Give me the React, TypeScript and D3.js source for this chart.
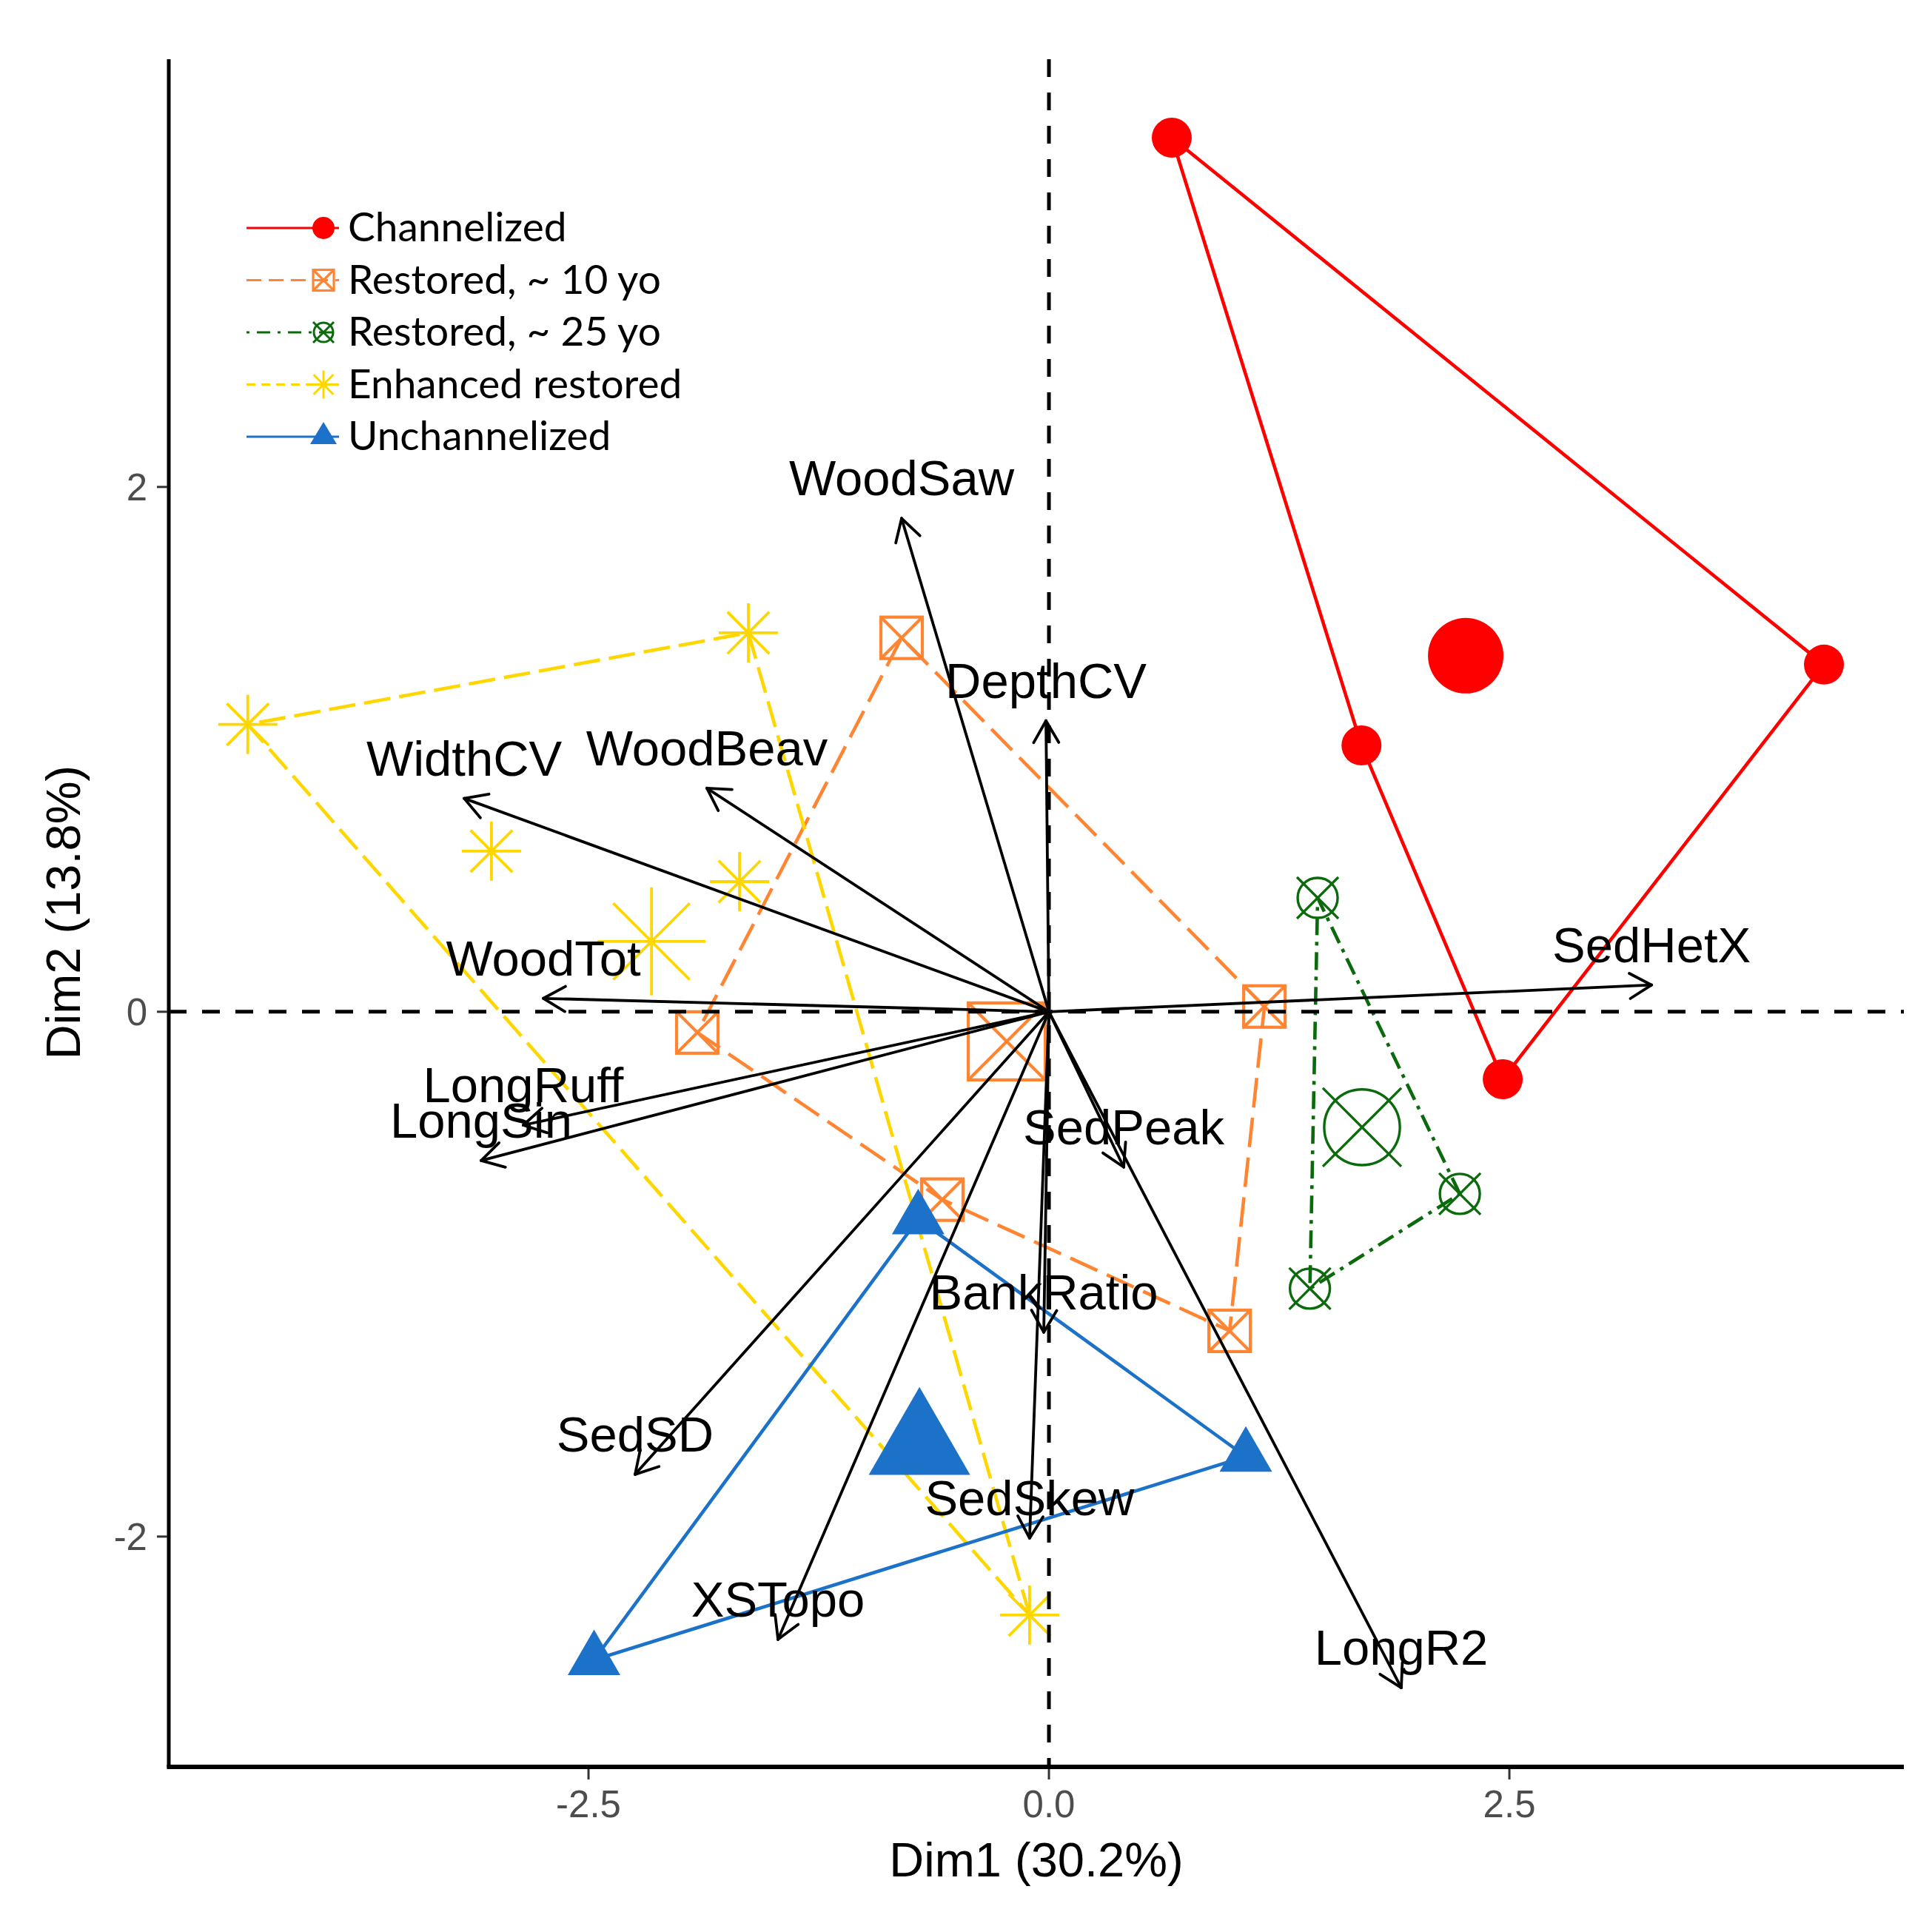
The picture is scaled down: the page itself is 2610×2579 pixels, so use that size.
import React from 'react';
import * as d3 from 'd3';

// ---------- data ----------
const groupNames = ["Channelized", "Restored, ~ 10 yo", "Restored, ~ 25 yo", "Enhanced restored", "Unchannelized"];
const groupColors = ["#FF0000", "#FF8533", "#0B6A0B", "#FFD700", "#1C71C9"];

const channelizedX = [0.667, 4.208, 2.464, 1.697];
const channelizedY = [3.331, 1.323, -0.257, 1.015];
const restored10X = [-0.80, 1.17, 0.981, -0.579, -1.909];
const restored10Y = [1.425, 0.02, -1.216, -0.716, -0.079];
const restored25X = [1.459, 2.231, 1.417];
const restored25Y = [0.434, -0.694, -1.055];
const enhancedX = [-4.35, -1.632, -3.027, -1.68, -0.105];
const enhancedY = [1.095, 1.444, 0.612, 0.496, -2.299];
const unchannelizedX = [-0.71, 1.069, -2.47];
const unchannelizedY = [-0.79, -1.695, -2.47];

const centroidX = [2.263, -0.229, 1.70, -2.158, -0.703];
const centroidY = [1.357, -0.113, -0.44, 0.268, -1.653];

const varNames = ["WoodSaw", "DepthCV", "WidthCV", "WoodBeav", "SedHetX", "WoodTot", "LongRuff", "LongSin", "SedPeak", "BankRatio", "SedSD", "SedSkew", "XSTopo", "LongR2"];
const varX = [-0.80, -0.016, -3.175, -1.857, 3.272, -2.745, -2.854, -3.083, 0.406, -0.028, -2.247, -0.105, -1.471, 1.913];
const varY = [1.88, 1.109, 0.813, 0.852, 0.102, 0.051, -0.432, -0.567, -0.592, -1.221, -1.763, -2.006, -2.392, -2.576];

const xTicks = [-2.5, 0, 2.5];
const xTickLabels = ["-2.5", "0.0", "2.5"];
const yTicks = [-2, 0, 2];
const yTickLabels = ["-2", "0", "2"];

const xTitle = "Dim1 (30.2%)";
const yTitle = "Dim2 (13.8%)";

const groupXs = [channelizedX, restored10X, restored25X, enhancedX, unchannelizedX];
const groupYs = [channelizedY, restored10Y, restored25Y, enhancedY, unchannelizedY];

// ---------- layout ----------
const W = 2610, H = 2579;
const left = 228, right = 2572, top = 80, bottom = 2385;
const xScale = d3.scaleLinear().domain([-4.779, 4.642]).range([left, right]);
const yScale = d3.scaleLinear().domain([-2.872, 3.630]).range([bottom, top]);

const hullDash = [null, "40 14", "24 9 5 9", "36 12", null];
const legendDash = [null, "20 10", "4 10 18 10", "12 8", null];

function Marker({ g, cx, cy, size }: { g: number; cx: number; cy: number; size: number }) {
  const c = groupColors[g];
  if (g === 0) {
    return <circle cx={cx} cy={cy} r={27 * size} fill={c} />;
  }
  if (g === 1) {
    const h = 28 * size;
    return (
      <g stroke={c} strokeWidth={4.2} fill="none">
        <rect x={cx - h} y={cy - h} width={2 * h} height={2 * h} />
        <line x1={cx - h} y1={cy - h} x2={cx + h} y2={cy + h} />
        <line x1={cx - h} y1={cy + h} x2={cx + h} y2={cy - h} />
      </g>
    );
  }
  if (g === 2) {
    const r = 27 * size;
    const h = 28 * size;
    return (
      <g stroke={c} strokeWidth={3.4} fill="none">
        <circle cx={cx} cy={cy} r={r} />
        <line x1={cx - h} y1={cy - h} x2={cx + h} y2={cy + h} />
        <line x1={cx - h} y1={cy + h} x2={cx + h} y2={cy - h} />
      </g>
    );
  }
  if (g === 3) {
    const a = 40 * size;
    const d = a / Math.SQRT2;
    return (
      <g stroke={c} strokeWidth={3.8} fill="none">
        <line x1={cx - a} y1={cy} x2={cx + a} y2={cy} />
        <line x1={cx} y1={cy - a} x2={cx} y2={cy + a} />
        <line x1={cx - d} y1={cy - d} x2={cx + d} y2={cy + d} />
        <line x1={cx - d} y1={cy + d} x2={cx + d} y2={cy - d} />
      </g>
    );
  }
  const hw = 35.5 * size;
  const tp = 41 * size;
  const bs = 20.5 * size;
  return <path d={`M${cx},${cy - tp}L${cx + hw},${cy + bs}L${cx - hw},${cy + bs}Z`} fill={c} />;
}

function LegendMarker({ g, cx, cy }: { g: number; cx: number; cy: number }) {
  const c = groupColors[g];
  if (g === 0) return <circle cx={cx} cy={cy} r={15} fill={c} />;
  if (g === 1) {
    const h = 14;
    return (
      <g stroke={c} strokeWidth={3.2} fill="none">
        <rect x={cx - h} y={cy - h} width={2 * h} height={2 * h} />
        <line x1={cx - h} y1={cy - h} x2={cx + h} y2={cy + h} />
        <line x1={cx - h} y1={cy + h} x2={cx + h} y2={cy - h} />
      </g>
    );
  }
  if (g === 2) {
    const h = 14;
    return (
      <g stroke={c} strokeWidth={3} fill="none">
        <circle cx={cx} cy={cy} r={13} />
        <line x1={cx - h} y1={cy - h} x2={cx + h} y2={cy + h} />
        <line x1={cx - h} y1={cy + h} x2={cx + h} y2={cy - h} />
      </g>
    );
  }
  if (g === 3) {
    const a = 19;
    const d = a / Math.SQRT2;
    return (
      <g stroke={c} strokeWidth={3} fill="none">
        <line x1={cx - a} y1={cy} x2={cx + a} y2={cy} />
        <line x1={cx} y1={cy - a} x2={cx} y2={cy + a} />
        <line x1={cx - d} y1={cy - d} x2={cx + d} y2={cy + d} />
        <line x1={cx - d} y1={cy + d} x2={cx + d} y2={cy - d} />
      </g>
    );
  }
  return <path d={`M${cx},${cy - 20}L${cx + 18},${cy + 10}L${cx - 18},${cy + 10}Z`} fill={c} />;
}

export default function App() {
  const x0 = xScale(0);
  const y0 = yScale(0);

  const hulls = groupXs.map((xs, g) => {
    const pts: [number, number][] = xs.map((xv, i) => [xScale(xv), yScale(groupYs[g][i])]);
    const hull = pts.length >= 3 ? d3.polygonHull(pts) : pts;
    return hull as [number, number][];
  });

  const arrowLen = 34;
  const arrowAng = Math.PI / 6;
  const labelSize = 67;

  return (
    <svg width={W} height={H} style={{ position: 'absolute', left: 0, top: 0, background: '#fff' }}>
      <rect x={0} y={0} width={W} height={H} fill="#fff" />

      {/* hulls */}
      {hulls.map((h, g) => (
        <path
          key={'h' + g}
          d={'M' + h.map(p => p.join(',')).join('L') + 'Z'}
          fill="none"
          stroke={groupColors[g]}
          strokeWidth={4.6}
          strokeDasharray={hullDash[g] || undefined}
        />
      ))}

      {/* individual points */}
      {groupXs.map((xs, g) =>
        xs.map((xv, i) => (
          <Marker key={'p' + g + '-' + i} g={g} cx={xScale(xv)} cy={yScale(groupYs[g][i])} size={1} />
        ))
      )}

      {/* centroids */}
      {centroidX.map((cxv, g) => (
        <Marker key={'c' + g} g={g} cx={xScale(cxv)} cy={yScale(centroidY[g])} size={g === 0 ? 51 / 27 : g === 1 ? 52 / 28 : g === 2 ? 53 / 28 : g === 3 ? 73 / 40 : 1.93} />
      ))}

      {/* reference lines */}
      <line x1={left} x2={right} y1={y0} y2={y0} stroke="#000" strokeWidth={5} strokeDasharray="24 21" />
      <line x1={x0} x2={x0} y1={top} y2={bottom} stroke="#000" strokeWidth={5} strokeDasharray="24 21" />

      {/* variable arrows */}
      {varNames.map((n, i) => {
        const tx = xScale(varX[i]);
        const ty = yScale(varY[i]);
        const ang = Math.atan2(ty - y0, tx - x0);
        const a1 = ang + Math.PI - arrowAng;
        const a2 = ang + Math.PI + arrowAng;
        return (
          <g key={'v' + i} stroke="#000" strokeWidth={3.8} fill="none" strokeLinecap="round">
            <line x1={x0} y1={y0} x2={tx} y2={ty} />
            <line x1={tx} y1={ty} x2={tx + arrowLen * Math.cos(a1)} y2={ty + arrowLen * Math.sin(a1)} />
            <line x1={tx} y1={ty} x2={tx + arrowLen * Math.cos(a2)} y2={ty + arrowLen * Math.sin(a2)} />
          </g>
        );
      })}
      {varNames.map((n, i) => (
        <text
          key={'t' + i}
          x={xScale(varX[i])}
          y={yScale(varY[i]) - 31}
          textAnchor="middle"
          fontFamily="'Liberation Sans', Arial, sans-serif"
          fontSize={labelSize}
          fill="#000"
        >
          {n}
        </text>
      ))}

      {/* axes */}
      <line x1={left} x2={left} y1={top} y2={bottom + 3} stroke="#000" strokeWidth={5} />
      <line x1={left - 2.5} x2={right} y1={bottom + 2} y2={bottom + 2} stroke="#000" strokeWidth={6} />
      {xTicks.map((t, i) => (
        <g key={'xt' + i}>
          <line x1={xScale(t)} x2={xScale(t)} y1={bottom + 5} y2={bottom + 19} stroke="#333" strokeWidth={3} />
          <text x={xScale(t)} y={2455} textAnchor="middle" fontFamily="'Liberation Sans', Arial, sans-serif" fontSize={51} fill="#4D4D4D">
            {xTickLabels[i]}
          </text>
        </g>
      ))}
      {yTicks.map((t, i) => (
        <g key={'yt' + i}>
          <line x1={left - 16} x2={left - 2} y1={yScale(t)} y2={yScale(t)} stroke="#333" strokeWidth={3} />
          <text x={199} y={yScale(t) + 18} textAnchor="end" fontFamily="'Liberation Sans', Arial, sans-serif" fontSize={51} fill="#4D4D4D">
            {yTickLabels[i]}
          </text>
        </g>
      ))}
      <text x={(left + right) / 2} y={2535} textAnchor="middle" fontFamily="'Liberation Sans', Arial, sans-serif" fontSize={65} fill="#000">
        {xTitle}
      </text>
      <text
        transform={`translate(108,${(top + bottom) / 2}) rotate(-90)`}
        textAnchor="middle"
        fontFamily="'Liberation Sans', Arial, sans-serif"
        fontSize={65}
        fill="#000"
      >
        {yTitle}
      </text>

      {/* legend */}
      {groupNames.map((n, g) => {
        const ly = 308 + g * 70.5;
        return (
          <g key={'l' + g}>
            <line x1={333} x2={458} y1={ly} y2={ly} stroke={groupColors[g]} strokeWidth={3.2} strokeDasharray={legendDash[g] || undefined} />
            <LegendMarker g={g} cx={437} cy={ly} />
            <text x={470} y={ly + 18} fontFamily="Lato, 'Open Sans', sans-serif" fontSize={55} fill="#000">
              {n}
            </text>
          </g>
        );
      })}
    </svg>
  );
}
